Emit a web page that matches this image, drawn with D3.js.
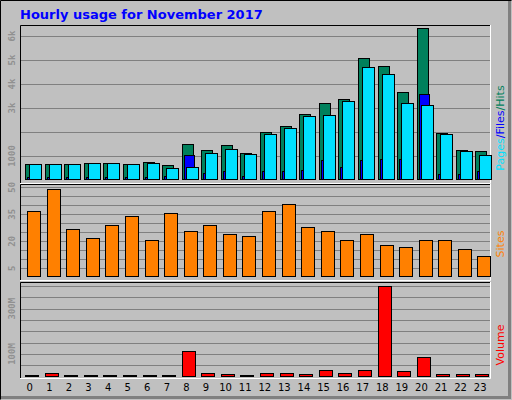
<!DOCTYPE html><html><head><meta charset="utf-8"><script src="https://cdn.jsdelivr.net/npm/d3@7"></script>
<style>body{margin:0;background:#fff}svg{display:block}</style></head><body><svg id="c" width="512" height="400"></svg>
<script>
const hours=d3.range(24).map(String);
const hits=[653,653,653,694,694,653,736,611,1486,1236,1444,1111,1986,2236,2736,3194,3361,5069,4736,3653,6319,1944,1236,1194];
const files=[653,653,653,694,694,653,694,486,528,1111,1278,1069,1903,2153,2653,2694,3278,4694,4403,3194,3111,1903,1194,1028];
const pages=[139,139,139,139,139,139,139,180,1028,278,361,153,361,361,403,819,528,819,861,861,3569,236,236,361];
const sites=[37,49,27,22,29,34,21,36,26,29,24,23,37,41,28,26,21,24,18,17,21,21,16,12];
const volume=[6,15,6,6,6,6,6,6,112,15,10,6,15,15,10,28,15,28,400,24,85,10,10,10];
const hitTicks=["1000","3k","4k","5k","6k"], siteTicks=["5","20","35","50"], volTicks=["100M","300M"];
const svg=d3.select("#c");
svg.append("rect").attr("x",0).attr("y",0).attr("width",512).attr("height",400).attr("fill","#c0c0c0");
svg.append("path").attr("d","M0.5,399.5V0.5H511.5").attr("stroke","#000").attr("fill","none");
svg.append("path").attr("d","M1,397.5H509.5V1").attr("stroke","#808080").attr("stroke-width",3).attr("fill","none");
svg.append("text").attr("x",20).attr("y",19).text("Hourly usage for November 2017").attr("font-family","DejaVu Sans").attr("font-weight","bold").attr("font-size",13).attr("fill","#0000ff");
const x=d3.scaleBand().domain(hours).range([20,490]);
function frame(y0,y1){
 svg.append("rect").attr("x",20).attr("y",y0).attr("width",470).attr("height",y1-y0).attr("fill","#c0c0c0");
 svg.append("path").attr("d",`M20.5,${y1}V${y0+0.5}H490`).attr("stroke","#000").attr("fill","none");
 svg.append("path").attr("d",`M20,${y1+0.5}H490.5V${y0}`).attr("stroke","#fff").attr("fill","none");
}
function grid(y,vals){vals.forEach(v=>svg.append("line").attr("x1",21).attr("x2",490).attr("y1",Math.round(y(v))+0.5).attr("y2",Math.round(y(v))+0.5).attr("stroke","#808080"));}
function ylab(y,ticks,vals){ticks.forEach((t,i)=>{const yy=y(vals[i]);svg.append("text").attr("transform",`translate(15,${yy}) rotate(-90)`).attr("text-anchor","middle").attr("font-family","DejaVu Sans Mono").attr("font-weight","bold").attr("font-size",9).attr("fill","#909090").text(t);});}
function bars(data,y,color,dx,w){svg.append("g").selectAll("rect").data(data).join("rect").attr("x",(d,i)=>Math.round(x(hours[i]))+dx+0.5).attr("width",w).attr("y",d=>Math.round(y(d))+0.5).attr("height",d=>Math.max(0,Math.round(y(0))-Math.round(y(d))-1)).attr("fill",color).attr("stroke","#000");}
frame(25,183);
const y1=d3.scaleLinear().domain([0,6000]).range([180,36]);
grid(y1,[1000,2000,3000,4000,5000,6000]);
ylab(y1,hitTicks,[1000,3000,4000,5000,6000]);
bars(hits,y1,"#00805c",5,11);
bars(pages,y1,"#0000ff",7,10);
bars(files,y1,"#00e0ff",9,12);
frame(184,280);
const y2=d3.scaleLinear().domain([0,50]).range([277.3,187.3]);
grid(y2,d3.range(5,51,5));
ylab(y2,siteTicks,[5,20,35,50]);
bars(sites,y2,"#ff8000",7,13);
frame(282,378);
const y3=d3.scaleLinear().domain([0,400]).range([376.7,286]);
grid(y3,d3.range(50,401,50));
ylab(y3,volTicks,[100,300]);
bars(volume,y3,"#ff0000",5,13);
hours.forEach(h=>svg.append("text").attr("x",x(h)+x.bandwidth()/2).attr("y",391).attr("text-anchor","middle").attr("font-family","DejaVu Sans").attr("font-size",10).attr("fill","#000").text(h));
function rlab(yc,parts){const t=svg.append("text").attr("transform",`translate(504,${yc}) rotate(-90)`).attr("text-anchor","middle").attr("font-family","DejaVu Sans").attr("font-size",11);parts.forEach(p=>t.append("tspan").attr("fill",p[1]).text(p[0]));}
rlab(128,[["Pages","#00e0ff"],["/Files","#0000ff"],["/Hits","#00805c"]]);
rlab(244,[["Sites","#ff8000"]]);
rlab(345,[["Volume","#ff0000"]]);
</script></body></html>
